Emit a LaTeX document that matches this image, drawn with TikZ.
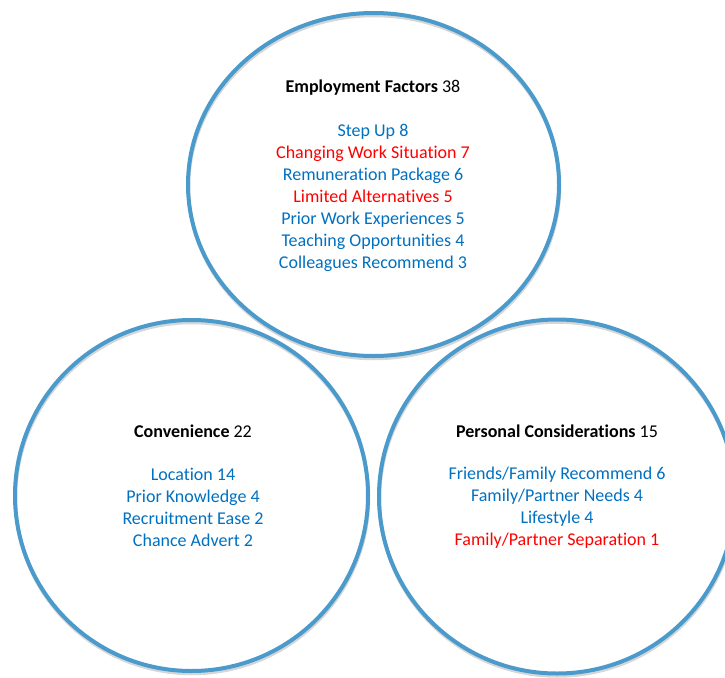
\documentclass[tikz,border=0pt]{standalone}
\usepackage{fontspec}
\setmainfont{Carlito}[Ligatures=NoCommon]
\usetikzlibrary{shapes.geometric}
\definecolor{ringblue}{RGB}{74,155,204}
\definecolor{itemblue}{RGB}{0,112,192}
\definecolor{itemred}{RGB}{255,0,0}
\tikzset{
  ring/.style={draw=ringblue, line width=4pt, ellipse, inner sep=0pt},
  ringshadow/.style={draw=black, line width=3.5pt, ellipse, inner sep=0pt, draw opacity=0.16},
  heading/.style={font=\fontsize{18}{22}\selectfont, inner sep=0pt},
  itemlist/.style={font=\fontsize{18}{22}\selectfont, text=itemblue, align=center, inner sep=0pt}
}

\begin{document}
\begin{tikzpicture}[x=1pt, y=-1pt]
  \useasboundingbox (0,0) rectangle (725,677);
  \clip (0,0) rectangle (725,677);
  % circles, lower two first
  \node[ringshadow, minimum width=353pt, minimum height=351pt] (convshadow) at (192,498) {};
  \node[ring, minimum width=353pt, minimum height=351pt] (conv) at (191.5,495.5) {};
  \node[ringshadow, minimum width=356pt, minimum height=354pt] (persshadow) at (557.5,499) {};
  \node[ring, minimum width=356pt, minimum height=354pt] (pers) at (557,496.5) {};
  \node[ringshadow, minimum width=371pt, minimum height=343pt] (emplshadow) at (374,187) {};
  \node[ring, minimum width=371pt, minimum height=343pt] (empl) at (373.5,184.5) {};
  % employment factors
  \node[heading] (empltitle) at (373,88) {\textbf{Employment Factors} 38};
  \node[itemlist] (emplitems) at (373,198) {Step Up 8\\
    \textcolor{itemred}{Changing Work Situation 7}\\
    Remuneration Package 6\\
    \textcolor{itemred}{Limited Alternatives 5}\\
    Prior Work Experiences 5\\
    Teaching Opportunities 4\\
    Colleagues Recommend 3};
  % convenience
  \node[heading] (convtitle) at (193,431) {\textbf{Convenience} 22};
  \node[itemlist] (convitems) at (193,507) {Location 14\\
    Prior Knowledge 4\\
    Recruitment Ease 2\\
    Chance Advert 2};
  % personal considerations
  \node[heading] (perstitle) at (557,431) {\textbf{Personal Considerations} 15};
  \node[itemlist] (persitems) at (557,508) {Friends/Family Recommend 6\\
    Family/Partner Needs 4\\
    Lifestyle 4\\
    \textcolor{itemred}{Family/Partner Separation 1}};
\end{tikzpicture}
\end{document}
